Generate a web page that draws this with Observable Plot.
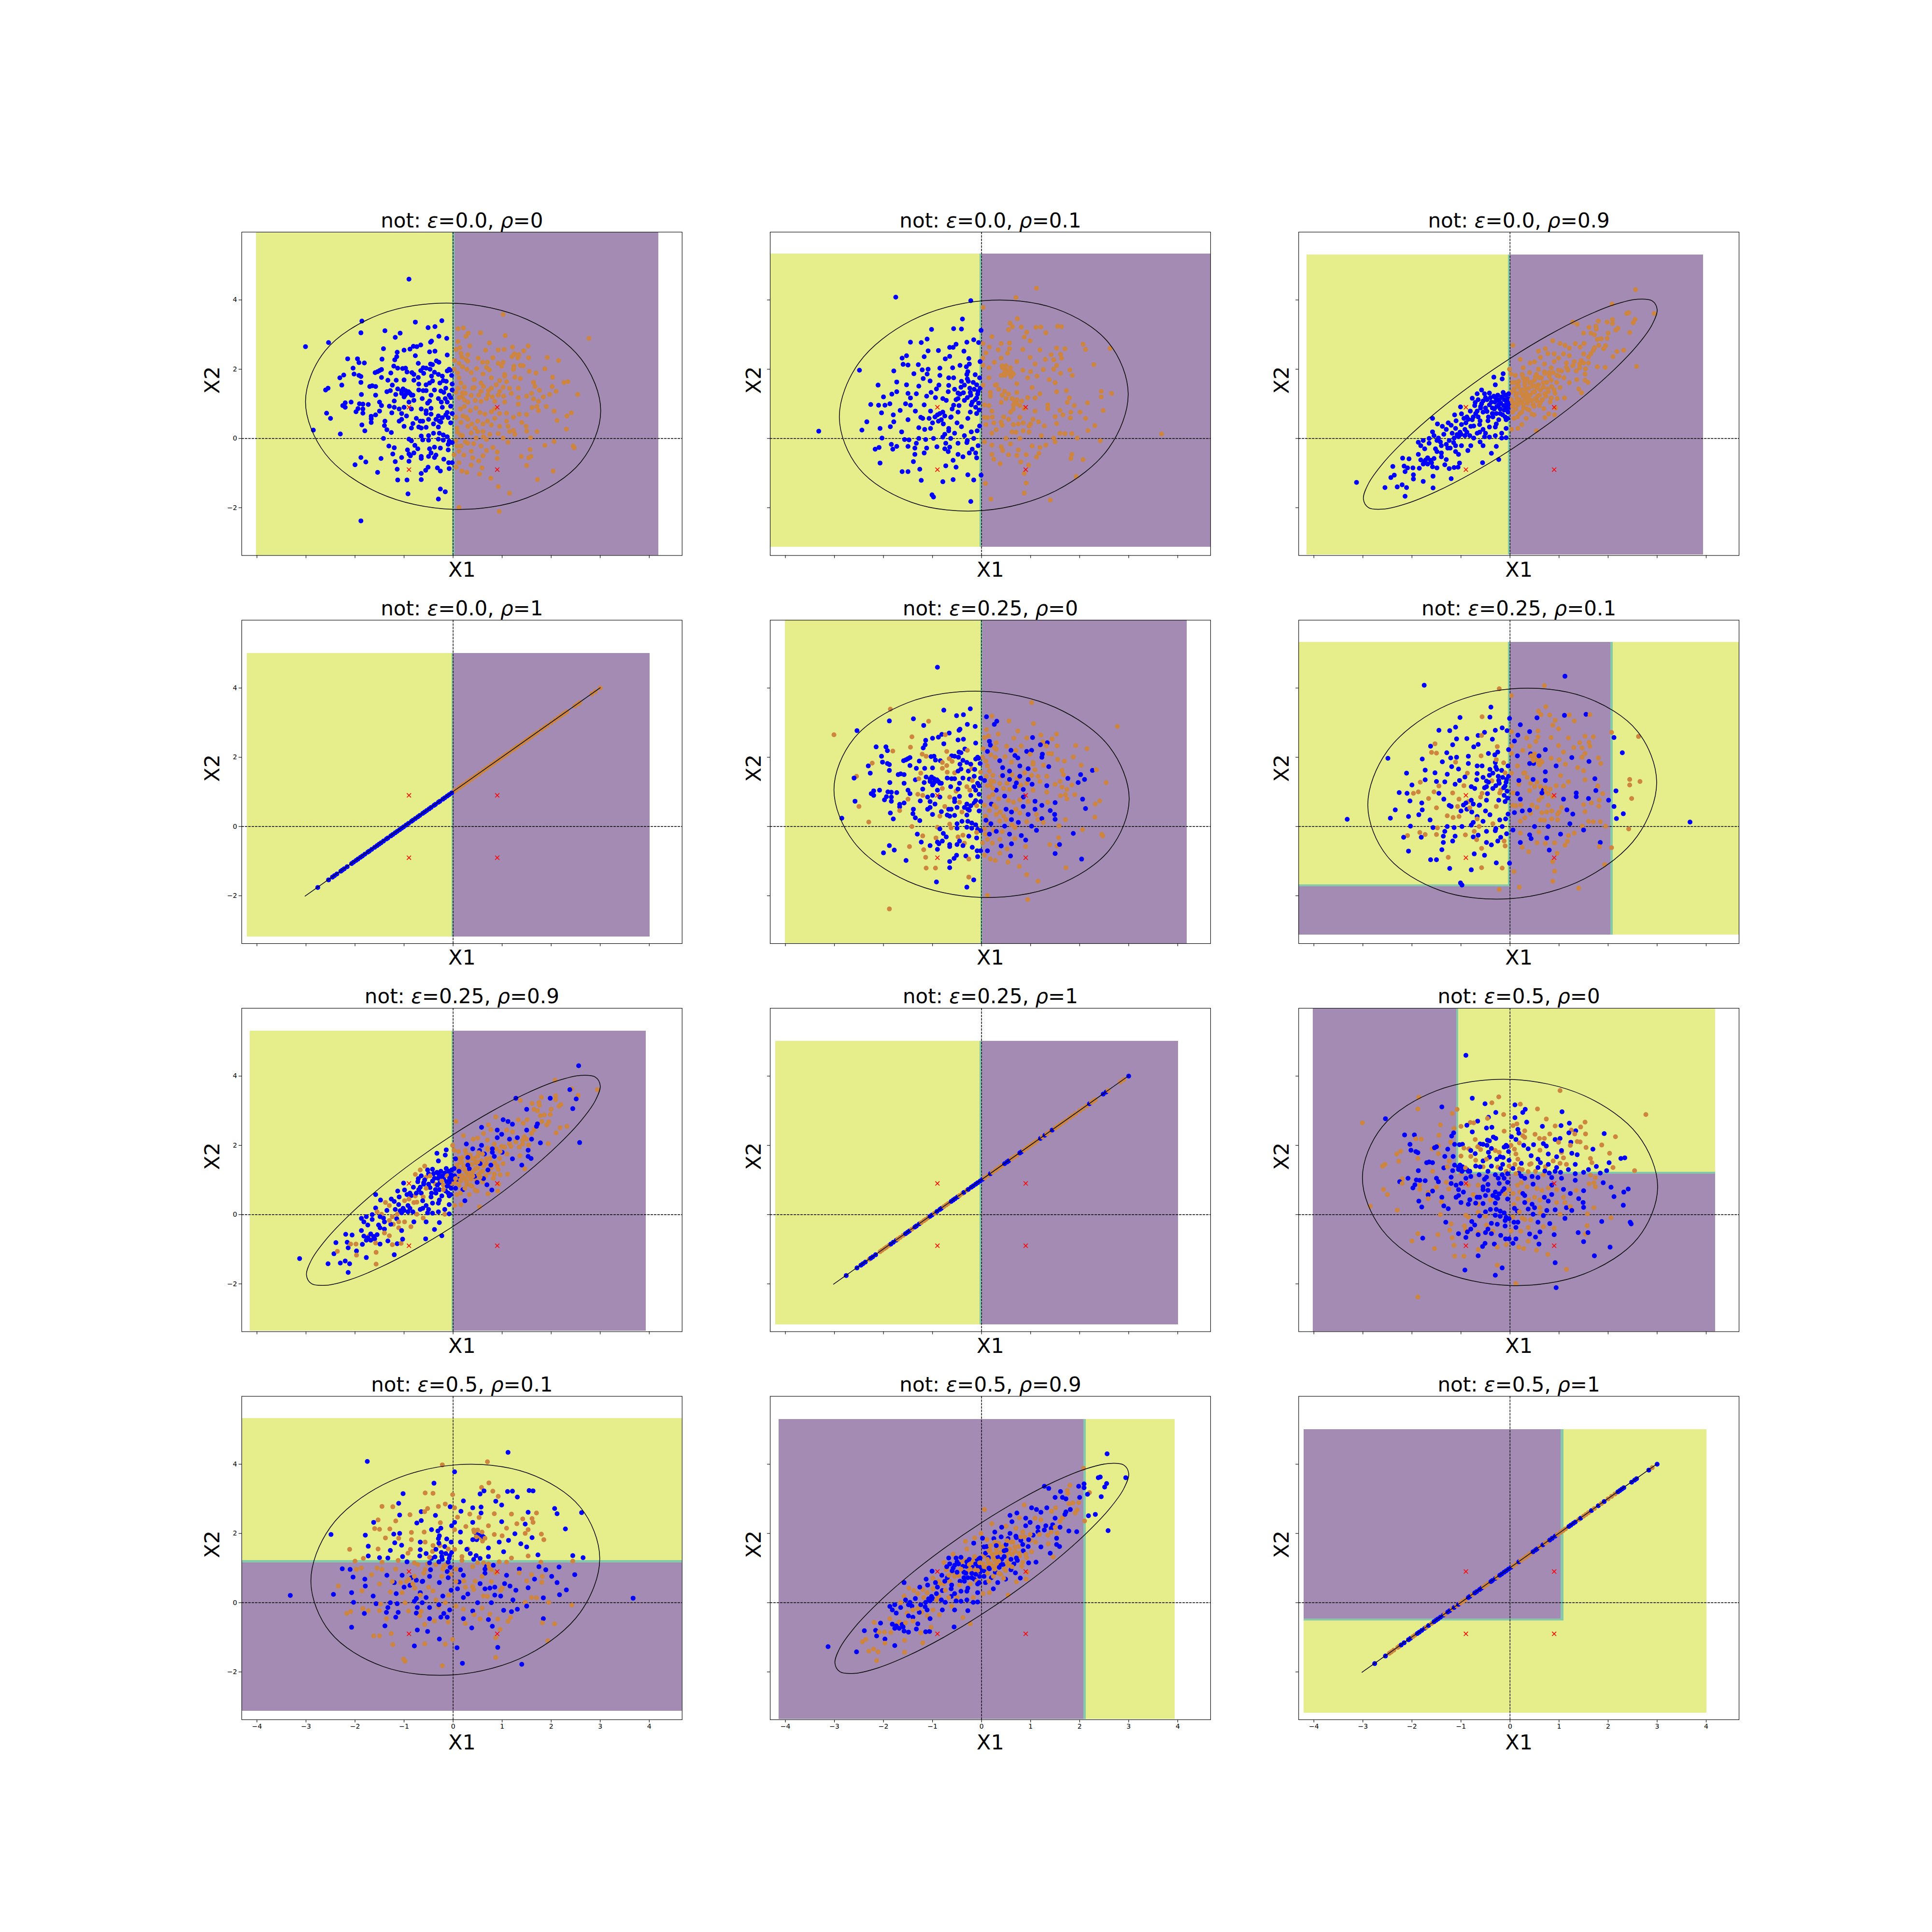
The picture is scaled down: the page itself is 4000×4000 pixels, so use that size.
<!DOCTYPE html>
<html><head><meta charset="utf-8">
<style>html,body{margin:0;padding:0;background:#fff}svg{display:block}</style>
<script src="https://cdn.jsdelivr.net/npm/d3@7"></script>
<script src="https://cdn.jsdelivr.net/npm/@observablehq/plot@0.6"></script>
</head><body><div id="chart"></div>
<script>
// panels, in reading order
const titles = ["not: ε=0.0, ρ=0","not: ε=0.0, ρ=0.1","not: ε=0.0, ρ=0.9","not: ε=0.0, ρ=1","not: ε=0.25, ρ=0","not: ε=0.25, ρ=0.1","not: ε=0.25, ρ=0.9","not: ε=0.25, ρ=1","not: ε=0.5, ρ=0","not: ε=0.5, ρ=0.1","not: ε=0.5, ρ=0.9","not: ε=0.5, ρ=1"];
const panelRho = ["0","1","9","x","0","1","9","x","0","1","9","x"];
const panelEps = [0,0,0,0,25,25,25,25,50,50,50,50];
const xTicks = [-4,-3,-2,-1,0,1,2,3,4];
const yTicks = [-2,0,2,4];
const corners = [[-0.9,0.9],[0.9,0.9],[-0.9,-0.9],[0.9,-0.9]];
const YEL="#e6ee8c", PUR="#a38bb3", EDGE="#86c9aa";
// decision regions: panel, colour, x1, x2, y1, y2
const regions = [
[0,YEL,-4.01,-.02,-3.38,5.96],[0,PUR,.03,4.19,-3.38,5.96],[0,EDGE,-.02,.03,-3.38,5.96],
[1,YEL,-4.31,-.04,-3.13,5.33],[1,PUR,0,4.67,-3.13,5.33],[1,EDGE,-.04,0,-3.13,5.33],
[2,YEL,-4.14,-.04,-3.36,5.3],[2,PUR,0,3.94,-3.36,5.3],[2,EDGE,-.04,0,-3.36,5.3],
[3,YEL,-4.2,-.03,-3.19,5.01],[3,PUR,0,4.01,-3.19,5.01],[3,EDGE,-.03,0,-3.19,5.01],
[4,YEL,-4.01,-.02,-3.38,5.96],[4,PUR,.02,4.19,-3.38,5.96],[4,EDGE,-.02,.02,-3.38,5.96],
[5,YEL,-4.31,-.04,-1.68,5.33],[5,PUR,-4.31,0,-3.13,-1.74],[5,EDGE,-4.31,-.04,-1.74,-1.68],[5,EDGE,-.04,0,-1.74,5.33],[5,PUR,0,2.05,-3.13,5.33],[5,EDGE,2.05,2.1,-3.13,5.33],[5,YEL,2.1,4.67,-3.13,5.33],
[6,YEL,-4.14,-.03,-3.36,5.3],[6,PUR,0,3.93,-3.36,5.3],[6,EDGE,-.03,0,-3.36,5.3],
[7,YEL,-4.2,-.04,-3.18,5.01],[7,PUR,0,4.01,-3.18,5.01],[7,EDGE,-.04,0,-3.18,5.01],
[8,PUR,-4.02,4.19,-3.38,1.17],[8,PUR,-4.02,-1.09,1.17,5.96],[8,EDGE,-1.09,-1.05,1.17,5.96],[8,YEL,-1.05,4.19,1.23,5.96],[8,EDGE,-1.09,4.19,1.17,1.23],
[9,YEL,-4.31,4.67,1.22,5.33],[9,EDGE,-4.31,4.67,1.15,1.22],[9,PUR,-4.31,4.67,-3.13,1.15],
[10,PUR,-4.13,2.08,-3.36,5.3],[10,EDGE,2.08,2.13,-3.36,5.3],[10,YEL,2.13,3.94,-3.36,5.3],
[11,YEL,-4.2,4.01,-3.19,5.0],[11,EDGE,1.04,1.09,-.52,5.0],[11,EDGE,-4.2,1.09,-.52,-.46],[11,PUR,-4.2,1.04,-.46,5.0]
];
// outlines (x,y pairs)
const outline0 = [3.01,.795,2.607,-.676,1.505,-1.716,0,-2.047,-1.505,-1.58,-2.607,-.441,-3.01,1.065,-2.607,2.536,-1.505,3.576,0,3.907,1.505,3.439,2.607,2.301];
const outline1 = [2.99,1.286,2.595,-.276,1.518,-1.508,.045,-2.08,-1.428,-1.844,-2.505,-.856,-2.9,.614,-2.505,2.176,-1.428,3.408,.045,3.98,1.518,3.744,2.595,2.756];
const outline9 = [3,3.726,2.898,3.288,2.599,2.695,2.123,1.987,1.503,1.21,.78,.418,.005,-.335,-.77,-.998,-1.493,-1.527,-2.113,-1.883,-2.589,-2.041,-2.888,-1.995,-2.99,-1.746,-2.888,-1.308,-2.589,-.715,-2.113,-.007,-1.493,.77,-.77,1.562,.005,2.315,.78,2.978,1.503,3.507,2.123,3.863,2.599,4.021,2.898,3.975];
const outlineX = [-3.02,-2.01,3,4.01];

// rho = 0 points (x,y pairs)
const rho0Blue = [-.9,4.6,-3.01,2.65,-2.54,2.77,-1.86,3.39,-1.88,3.05,-.77,3.36,-.23,3.4,-.51,3.2,-.37,3.23,-1.39,3.11,-1.08,3.04,-1.18,2.92,-.29,2.95,-.13,2.89,-.44,2.81,-.46,2.78,-.66,2.7,-.81,2.66,-.74,2.65,-1.42,2.59,-1,2.55,-.88,2.58,-1.14,2.49,-.48,2.5,-.37,2.52,-.77,2.39,-.12,2.41,-1.15,2.36,-1.45,2.29,-1.19,2.27,-2.15,2.3,-1.95,2.3,-1.92,2.19,-1.81,2.18,-.34,2.24,-.29,2.2,-.71,2.17,-.46,2.15,-.42,2.13,-1.21,2.09,-2.04,2.03,-1.46,1.99,-1.5,1.96,-1.13,2.03,-1.03,2.02,-.97,2.03,-.94,1.92,-.61,2.04,-.55,2.03,-.47,2,-.08,2,-.12,1.95,-.06,1.97,-.66,1.96,-1.59,1.9,-1.54,1.93,-1.27,1.89,-.84,1.9,-.8,1.85,-.6,1.88,-.38,1.91,-.44,1.8,-.22,1.8,-.03,1.82,-2.02,1.86,-1.92,1.82,-1.88,1.79,-2.31,1.75,-2.23,1.83,-1.46,1.76,-1.33,1.68,-1.16,1.68,-1,1.69,-.71,1.76,-.8,1.68,-.42,1.66,-.48,1.6,-.27,1.6,-.2,1.67,-.14,1.65,-.02,1.57,-.7,1.57,-1.88,1.62,-2.27,1.54,-1.7,1.5,-1.65,1.52,-1.58,1.5,-1.24,1.54,-1.13,1.43,-2.55,1.45,-2.6,1.4,-1.35,1.35,-1.28,1.38,-1.02,1.43,-.97,1.38,-.91,1.35,-1.05,1.3,-.98,1.25,-.85,1.25,-.55,1.38,-.61,1.38,-.38,1.4,-.25,1.37,-.19,1.33,-.02,1.4,-.45,1.25,-1.87,1.27,-1.58,1.25,-1.17,1.27,-.82,1.25,-.63,1.15,-.3,1.15,-.16,1.15,-.05,1.18,-1.5,1.05,-1.2,1.08,-.9,1.05,-.8,1.1,-.52,1.02,-.48,1.08,-.24,1.05,-.12,1.05,-2.2,1.03,-2.08,1.05,-1.91,1,-1.84,.99,-1.73,.98,-2.25,.95,-2.2,.9,-1.94,.86,-1.84,.85,-1.46,.95,-1.3,.93,-1.2,.9,-1.1,.85,-1,.9,-.85,.85,-.65,.85,-.55,.8,-.45,.87,-.22,.9,-.05,.93,-2.58,.73,-2.5,.58,-1.98,.77,-1.84,.73,-1.5,.79,-1.58,.68,-1.25,.74,-1.05,.72,-.95,.65,-.55,.72,-.45,.7,-.3,.65,-.15,.68,-.02,.72,-1.67,.64,-1.67,.57,-1.05,.55,-.75,.58,-.62,.5,-.5,.55,-.35,.55,-.22,.6,-.1,.6,-1.39,.5,-1.1,.5,-.82,.43,-.67,.5,-.4,.42,-.25,.47,-.05,.45,-1.67,.46,-1.86,.39,-1.4,.37,-1.35,.25,-1,.35,-.7,.33,-.55,.32,-.3,.33,-.85,.3,-2.85,.24,-1.8,.22,-1.26,.17,-2.3,.13,-.65,.07,-.5,.08,-.28,.15,-.2,.1,-.12,.05,-1.42,0,-.9,-.02,-.85,-.07,-.62,-.04,-.5,-.05,-.3,-.02,-.2,-.05,-.08,-.08,-.02,-.12,-.78,-.2,-.1,-.17,-1.31,-.22,-1.2,-.27,-.72,-.3,-.48,-.3,-.38,-.25,-.26,-.28,-.93,-.33,-.1,-.33,-.8,-.42,-.45,-.42,-.9,-.45,-.87,-.5,-1.23,-.45,-.5,-.52,-.35,-.48,-.65,-.52,-.65,-.58,-1.88,-.55,-1.47,-.58,-1.05,-.55,-.9,-.66,-1.18,-.67,-.38,-.55,-.19,-.6,-1.78,-.68,-.09,-.7,-.02,-.7,-2,-.76,-.51,-.83,-.32,-.85,-.08,-.87,-1.14,-.89,-.56,-.92,-.26,-.94,-1.54,-.98,-.65,-1.01,-1.13,-1.2,-.94,-1.2,-.65,-1.19,-.26,-1.46,-.16,-1.54,-.92,-1.6,-.3,-1.75,-1.88,-2.38];
const rho0Orange = [1.02,3.58,2.77,2.89,.1,3.17,.21,3.19,.56,3.05,1.06,2.97,.31,3.04,.26,2.95,.1,2.8,.74,2.76,.34,2.67,.14,2.62,.06,2.57,1.53,2.67,1.21,2.64,.92,2.56,1.04,2.57,.66,2.55,.16,2.46,.3,2.42,1.44,2.53,1.34,2.42,1.25,2.44,1.2,2.36,1.32,2.33,1.54,2.33,1.92,2.34,2.15,2.25,.51,2.32,.81,2.33,.03,2.25,.26,2.28,.3,2.23,.7,2.2,.92,2.17,1.02,2.2,.12,2.17,.19,2.07,.99,2.09,1.24,2.09,1.37,2.11,1.43,2.1,1.87,2.01,.02,2,.28,2,.48,2.02,.74,1.98,1.23,2,1.55,1.94,1.69,1.89,.09,1.89,.37,1.9,.61,1.86,1.05,1.85,2.03,1.77,.12,1.75,.43,1.7,.78,1.75,1.37,1.73,1.26,1.77,1.64,1.62,2.26,1.62,2.34,1.64,1.09,1.64,.95,1.67,.16,1.6,.57,1.6,1.67,1.5,2.02,1.5,2.54,1.27,.23,1.48,.43,1.47,.78,1.45,1.02,1.48,1.33,1.45,.06,1.33,.19,1.32,.57,1.36,.95,1.36,1.76,1.39,2.1,1.36,1.97,1.27,1.84,1.2,1.5,1.22,1.19,1.3,.71,1.26,.37,1.24,.12,1.18,1.03,1.22,1.33,1.18,1.64,1.14,.23,1.11,.57,1.07,.85,1.07,1.33,.99,1.74,1.07,1.9,.92,1.61,.89,1.71,.92,2.06,.79,2.41,.74,2.32,.65,2.12,.52,1.74,.8,1.5,.69,1.09,.73,.78,.77,.47,.88,.23,.92,.06,.61,.26,.61,.5,.5,.85,.58,1.23,.61,1.09,.5,1.4,.46,.16,.46,.3,.35,.61,.42,.78,.39,1.12,.35,1.49,.35,2.31,.27,1.71,.2,1.5,.21,1.23,.23,.95,.35,.09,.18,.37,.16,.61,.2,.92,.14,1.26,.12,1.58,.02,.19,.08,.47,.01,.68,-.03,1.02,.01,.06,-.07,.3,-.14,1.12,-.11,1.87,-.2,2.06,-.09,2.45,-.22,2.47,-.27,.16,-.22,.57,-.22,.81,-.26,1.57,-.32,.12,-.37,.37,-.37,.9,-.39,.02,-.47,.4,-.56,.61,-.5,1.39,-.52,1.54,-.56,1.59,-.52,.9,-.58,.52,-.65,.12,-.7,1.5,-.78,.37,-.77,.59,-.85,.06,-.83,.18,-.94,.28,-.98,.54,-1.03,2.04,-.94,.77,-1.15,1.72,-1.19,.92,-1.39,1.15,-1.58,.12,-1.99,.94,-2.11];
// denser centre of the cloud, with each point's colour at eps=0.25 and eps=0.5
const rho0Core = [.1,1.45,.18,1.2,.25,1.3,.3,1.05,.35,.8,.4,1.45,.45,1.1,.52,1.25,.62,1.5,.68,1.15,.72,1.38,.8,1.2,.88,1.55,.92,1.25,.15,.85,.2,.65,.3,.55,.38,.42,.45,.3,.55,.75,.65,.7,.7,.5,.85,.85,.95,.72,1.05,1.05,1.15,1.45,.08,.3,.15,.1,.25,-.1,.5,.2,.62,.05,.75,.12,.42,-.15,.68,-.35,.08,-.22,.22,-.48,1.15,.2,1.35,.7,1.6,1.3,1.05,1.8,.68,2.05,.18,2.35,.6,2.2,-.7,1.4,-.55,1.55,-.3,1.85,-.15,1.45,-.08,1.25,-.12,.75,-.28,.5,-.65,.3,-.4,.15,-1,1.2,-.95,1.3,-1.05,1.37,-.88,1.3];
const rho0Core25 = "oooboooooboooooboooooobooooooooboooooooobbbbobbbbbbb";
const rho0Core50 = "obobooboboobobooboboobbobooboboboobobobobbobbobobbobo";

// rho = 0.1 points
const rho1Blue = [-1.75,4.08,-.22,3.98,-.39,3.45,-1.02,3.15,-.57,3.17,-.41,3.16,-.01,3.12,-1.11,2.87,-1.45,2.78,-1.23,2.77,-.3,2.78,-.16,2.85,-.06,2.77,-.52,2.72,-.65,2.63,-.58,2.63,-1.09,2.53,-.88,2.54,-.36,2.52,-1.53,2.39,-1.62,2.32,-1.17,2.36,-.74,2.3,-.65,2.37,-.26,2.31,-1.6,2.14,-1.5,2.12,-1.29,2.13,-2.49,1.97,-1.79,1.95,-1.21,1.98,-1.09,2,-.85,2.03,-.59,2.04,-.44,2.11,-.31,2.07,-.25,2.15,-.03,2.22,-1.38,1.87,-1.11,1.86,-.85,1.82,-.28,1.93,-.13,1.84,-.04,1.75,-1.19,1.73,-1.05,1.66,-.67,1.75,-.57,1.75,-.41,1.65,-.29,1.72,-1.73,1.63,-1.53,1.55,-2.11,1.54,-1.28,1.51,-.87,1.54,-.67,1.53,-.35,1.54,-.92,1.43,-1.73,1.35,-1.83,1.28,-1.5,1.3,-1.33,1.29,-1.03,1.33,-.68,1.35,-.48,1.31,-.23,1.33,-.07,1.36,-2,1.2,-1.12,1.22,-.94,1.18,-.79,1.15,-.48,1.15,-.29,1.18,-.1,1.17,-1.45,1.17,-2.26,.98,-2.1,.96,-1.97,.96,-1.87,1,-1.55,1,-1.45,.96,-1.17,.97,-.57,.96,-.21,.97,-2.04,.74,-1.8,.68,-1.66,.81,-1.35,.79,-1.04,.79,-.79,.76,-.48,.76,-.23,.76,-.1,.72,-2.34,.48,-1.79,.48,-1.5,.54,-1.24,.61,-1.07,.58,-.82,.54,-.63,.61,-.28,.58,-2.44,.24,-2.07,.29,-1.86,.34,-1.28,.31,-1.04,.29,-.67,.29,-.41,.34,-.04,.36,-3.32,.21,-1.63,.19,-1.16,.26,-.67,.22,-.21,.19,-.09,.22,-2.03,.01,-1.57,-.03,-1.48,-.04,-1.28,0,-1.14,-.03,-.98,0,-.79,.04,-.63,0,-.35,.08,-.16,0,-1.33,-.14,-1.84,-.17,-1.73,-.23,-1.5,-.23,-2.09,-.26,-2.17,-.31,-1.81,-.31,-1.36,-.28,-1.12,-.28,-.91,-.24,-.73,-.14,-.48,-.14,-.29,-.06,-.07,-.21,-.19,-.31,-1.36,-.46,-1.17,-.42,-.68,-.38,-.48,-.46,-.38,-.53,-.1,-.56,-1.39,-.67,-2.07,-.71,-.58,-.63,-.73,-.79,-.52,-.83,-1.26,-.89,-1.62,-.96,-1.5,-.96,-.28,-1.05,-.01,-1.06,-1.23,-1.21,-.79,-1.25,-.58,-1.19,-.16,-1.2,-1.01,-1.63,-.98,-1.69,-.22,-1.82];
const rho1Orange = [1.12,4.34,.7,4.07,.03,3.78,.73,3.46,.58,3.33,.55,3.14,.63,3.23,.81,3.22,1.11,3.21,1.21,3.22,1.55,3.24,1.63,3.23,1.31,3.05,.92,3.07,.87,2.93,.21,2.94,.99,2.82,2.07,2.72,.4,2.74,.57,2.76,.03,2.74,.16,2.64,.57,2.59,.34,2.56,.84,2.57,1.19,2.56,1.53,2.61,1.7,2.59,2.12,2.57,2.62,2.6,.53,2.46,.09,2.47,1.42,2.42,1.61,2.43,.03,2.32,.4,2.32,.99,2.34,1.3,2.28,1.47,2.27,1.63,2.32,.26,2.2,.72,2.22,1.53,2.11,2.29,2.13,1.09,2.15,.03,2.11,.43,2.04,.59,2.04,.15,2.04,.84,1.97,1,1.93,1.26,1.99,1.47,2,1.8,1.98,1.61,1.88,1.85,1.82,.47,1.9,.65,1.86,1.13,1.8,.15,1.75,.4,1.82,.94,1.75,1.38,1.7,1.5,1.61,.28,1.54,.72,1.58,.03,1.54,1.03,1.47,1.73,1.38,1.53,1.35,2.44,1.36,2.65,1.3,2.44,1.2,.18,1.33,.47,1.36,.72,1.33,1.19,1.29,.94,1.18,1.09,1.17,1.79,1.17,1.75,1.04,1.89,.95,2.16,1.03,1.35,.97,.06,.97,.4,1.04,.65,.97,2.48,.81,2.01,.76,1.82,.76,1.6,.81,1.35,.86,1.09,.79,.21,.79,.59,.76,.87,.86,1.66,.68,1.81,.59,2.12,.58,1.5,.63,1.16,.48,.06,.61,.78,.61,.4,.47,1.53,.43,2.31,.37,2.17,.23,.09,.4,.65,.4,.97,.36,1.28,.36,3.67,.13,1.6,.15,1.7,.14,1.84,.14,.21,.15,.62,.19,.97,.19,1.22,.08,1.95,.01,1.47,.01,2.42,-.07,.06,-.1,.5,0,.78,0,1.5,-.1,.21,-.19,.59,-.16,1.03,-.22,1.31,-.19,1.19,-.26,.4,-.24,.75,-.33,.43,-.35,.21,-.46,.55,-.47,.72,-.49,.91,-.47,1.17,-.43,1.84,-.46,.25,-.6,1.12,-.54,1.82,-.58,2.07,-.61,.8,-.68,.38,-.73,.96,-.77,.87,-1.01,1.93,-1.1,.08,-1.3,.91,-1.29,.87,-1.58,.19,-1.75,1.4,-1.78];
const rho1Core = [-.3,1.85,-.27,1.65,-.24,1.45,-.22,1.25,-.19,1.05,-.17,1.62,-.15,1.42,-.13,1.12,-.12,.9,-.1,1.55,-.08,1.28,-.06,1.02,-.05,.82,-.03,1.45,-.35,1.1,-.37,1.32,-.42,1.48,-.44,1.28,-.46,.95,-.52,1.12,-.55,1.42,-.6,.85,-.62,.62,-.72,1.1,-.75,.65,-.78,.42,-.85,.72,-.88,.5,-.95,.62,-1,.45,-.9,.68,-1.2,.58,-.5,.45,-.55,.15,-.75,.12,-.3,-.12,-.25,-.42,-.12,-.42,-.65,-.25,-.75,-.3,.42,2.1,.47,2,.5,2.1,.52,1.95,.55,1.88,.48,1.82,.58,1.95,.6,1.78,.62,1.9,.3,1.55,.35,1.42,.42,1.25,.5,1.15,.55,1.28,.62,1.15,.68,1.05,.72,1.12,.65,.85,.78,.95,.82,1.08,.72,1,.45,.62,.55,.55,.25,.45,.3,.25,.42,.38,.75,.42,.85,.45,1,.42,1.05,.55,.18,1.22,.15,.95,.12,.6,.22,.62,.7,.18,.85,.22];
const rho1Core25 = "bbbbobbbbobbbbbobbbbbobbbbobbbbbbbbbbobbboooobooooooooobooooooobooooooobooooooo";
const rho1Core50 = "bobbobbobobbobobobbobobobobbobobobbobbobobobobbobobboboboboboobobobbobobboobobobo";

// rho = 0.9 points
const rho9Blue = [-3.13,-1.27,-2.55,-1.42,-2.3,-1.4,-2.2,-1.34,-2.11,-1.42,-2.14,-1.67,-2.43,-1.13,-2.36,-1.06,-2.39,-.81,-2.16,-.8,-2.14,-.96,-1.97,-1.05,-1.97,-1.17,-1.77,-1.24,-1.57,-1.43,-1.57,-1.09,-1.2,-1.16,-2.19,-.57,-2.06,-.59,-2.09,-.85,-1.98,-.85,-1.85,-.86,-1.87,-.46,-1.82,-.62,-1.74,-.3,-1.82,-.21,-1.87,-.11,-1.77,-.06,-1.65,0,-1.65,-.14,-1.74,-.67,-1.68,-.56,-1.62,-.63,-1.68,-.74,-1.77,-.74,-1.55,-.58,-1.49,-.38,-1.4,-.42,-1.49,-.85,-1.33,-.76,-1.24,-.87,-1.14,-.84,-1.06,-.83,-1.03,-.71,-1.3,-.61,-1.4,-.53,-.56,-.7,-.23,-.61,-.38,-.43,-.28,-.23,-.55,-.21,-.86,-.35,-.99,-.21,-1.11,-.38,-1.05,-.46,-1.27,-.28,-1.4,-.21,-1.58,.19,-1.55,.08,-1.46,.01,-1.49,-.06,-1.3,-.17,-1.11,-.21,-1.24,-.06,-1.08,.11,-1.14,.01,-.92,.08,-.74,.01,-.8,-.21,-.61,-.1,-.42,.04,-.17,.01,-.08,.02,-1.58,.58,-1.48,.42,-1.38,.35,-1.26,.45,-1.3,.26,-1.11,.29,-1.18,.15,-.99,.4,-.92,.26,-.74,.36,-.67,.15,-.55,.26,-.42,.33,-.3,.33,-.17,.15,-.08,.29,-1.13,.68,-1.1,.51,-.94,.58,-.99,.71,-.77,.54,-.61,.51,-.45,.51,-.23,.54,-.08,.54,-1.01,.91,-.81,.79,-.67,.79,-.55,.76,-.36,.72,-.2,.72,-.04,.76,-.71,1.04,-.58,1,-.42,.97,-.23,.97,-.08,.93,-.77,1.16,-.67,1.29,-.52,1.29,-.58,1.4,-.42,1.31,-.3,1.18,-.14,1.33,-.03,1.29,-.3,1.55,-.33,1.77,-.16,1.72,-.14,1.87,-.5,.88,-.6,.92,-.32,.85,-.12,.82,-.47,1.12,-.25,1.1,-.9,.45,-.75,.62,-.35,.62,-.62,.4,-.28,.42,-1.02,.18,-.82,.08,-.52,.05,-.3,.08];
const rho9Orange = [2.56,4.3,2.08,3.88,2.94,3.61,2.42,3.63,2.38,3.61,1.28,3.36,1.37,3.3,1.8,3.39,1.98,3.36,2.09,3.43,2.09,3.32,2.55,3.44,2.51,3.34,2.2,3.18,2.16,3.13,2.44,3.06,1.61,3.21,1.75,3.24,1.76,3.16,1.5,3.04,1.65,3.04,2,3.04,1.72,3,1.86,2.88,1.98,2.89,1.78,2.86,.87,2.82,.06,2.69,1.02,2.74,1.12,2.69,1.33,2.74,1.51,2.74,1.81,2.69,1.95,2.68,1.43,2.64,1.91,2.59,.58,2.52,.72,2.59,1.21,2.61,1.7,2.55,2.18,2.51,2.32,2.55,.77,2.45,.9,2.44,1.09,2.44,1.5,2.44,2.1,2.36,.62,2.34,.21,2.28,.99,2.32,1.21,2.39,1.31,2.22,1.45,2.25,2.58,2.08,.5,2.21,.7,2.15,.9,2.22,1.15,2.18,1.6,2.18,1.5,2.18,.41,2.18,1.78,2.07,1.94,2.05,1.42,2.04,1.54,2.01,.27,2.04,.58,2,.84,2.04,1.18,1.97,.99,1.97,-.01,2,1.53,1.86,.4,1.9,.71,1.88,.96,1.82,.02,1.86,.11,1.82,.27,1.75,.52,1.79,1.36,1.7,1.53,1.68,1.59,1.62,.84,1.68,1.21,1.61,.05,1.61,.18,1.65,.4,1.61,.68,1.61,1.02,1.47,1.4,1.43,1.46,1.32,.55,1.47,.77,1.43,.08,1.43,.3,1.43,.02,1.33,.24,1.29,.46,1.33,.71,1.29,.96,1.15,1.11,1.17,.84,1.17,.14,1.15,.4,1.11,.62,1.04,.05,1.04,.27,.97,.49,.93,.69,.86,.93,.88,.05,.76,.24,.76,.49,.68,.79,.71,.91,.68,.71,.6,.08,.58,.33,.58,.24,.4,.03,.26,.16,.29,.54,.22,.35,1.2,.6,1.25,.15,1,.35,.85,.55,1.08,.15,.62,.45,.7,.9,1.4,.6,1.75,.8,1.9,.15,1.5,.3,1.65,.5,1.52,.12,1.25];
const rho9Core = [-.72,.95,-.65,1.12,-.6,.88,-.55,1.08,-.5,1.18,-.47,.78,-.44,.62,-.4,1.18,-.38,1.05,-.36,.88,-.33,1.22,-.31,1.05,-.28,.72,-.27,.92,-.25,1.25,-.22,1.12,-.2,.85,-.19,1.02,-.17,1.2,-.15,.68,-.13,.95,-.12,1.12,-.1,.62,-.09,1.25,-.07,1.05,-.06,.82,-.05,.58,-.04,1.15,-.03,.9,-.02,1.02,-.65,.62,-.7,.72,-.85,.55,-.8,.35,-.88,.18,-1,.12,-1.15,-.12,-1.2,.38,-1.05,.05,-1.22,-.28,-1.35,.12,-1.42,-.1,-1.52,-.3,-1.6,-.7,-1.72,-.62,-1.58,-.82,-.88,.62,-.62,.18,-.5,.15,.03,1.12,.05,.92,.07,1.38,.1,1.02,.1,1.62,.12,.85,.14,1.3,.16,.98,.17,1.52,.19,1.12,.2,.72,.22,1.4,.24,1.05,.25,1.85,.27,1.22,.28,.88,.3,1.55,.31,1.12,.33,1.32,.35,1.72,.36,1.02,.38,1.45,.39,.82,.41,1.25,.43,1.62,.44,1.1,.46,1.5,.47,.98,.5,1.35,.5,1.68,.52,1.15,.54,1.85,.56,1.22,.58,1.55,.6,.95,.62,1.4,.64,1.75,.66,1.12,.68,1.48,.7,1.92,.73,1.22,.75,1.62,.78,1.35,.8,1.8,.82,1.05,.85,1.5,.88,1.9,.92,1.3,.95,1.62,1,1.8,1.05,1.95,1.1,1.75,1.15,2.05,1.28,2.1,1.35,1.95,1.42,2.15,1.6,2.35,1.65,2.45,1.72,2.62];
const rho9Core25 = "bbbobbbbbobbbbbbobbbbobbbbbbobbbbobbbbbobbbboobbbbooboooooobooooooobooooooboooooboooobooooooboooooboooooooobooooboo";
const rho9Core50 = "obobbobobbobbobobbobobobbobobbobobobbobobbobobobooboobobbooboobobooboboobobboobobooboobobbooboboobobobboboobooboobo";

// rho = 1 points (all on one straight line)
const rhoXBlue = [-2.76,-1.76,-2.54,-1.54,-2.46,-1.46,-2.42,-1.42,-2.37,-1.37,-2.29,-1.29,-2.26,-1.26,-2.22,-1.22,-2.16,-1.16,-2.07,-1.07,-2.03,-1.03,-1.98,-.98,-1.94,-.94,-1.89,-.89,-1.85,-.85,-1.8,-.8,-1.74,-.74,-1.71,-.71,-1.66,-.66,-1.6,-.6,-1.55,-.55,-1.51,-.51,-1.47,-.47,-1.42,-.42,-1.36,-.36,-1.33,-.33,-1.27,-.27,-1.23,-.23,-1.18,-.18,-1.14,-.14,-1.09,-.09,-1.05,-.05,-1.01,-.01,-.96,.04,-.91,.09,-.85,.15,-.82,.18,-.77,.23,-.72,.28,-.68,.32,-.62,.38,-.58,.42,-.54,.46,-.49,.51,-.45,.55,-.39,.61,-.36,.64,-.3,.7,-.27,.73,-.21,.79,-.17,.83,-.12,.88,-.08,.92,-.03,.97];
const rhoXOrange = [.02,1.02,.06,1.06,.13,1.13,.18,1.18,.22,1.22,.28,1.28,.33,1.33,.38,1.38,.43,1.43,.47,1.47,.52,1.52,.55,1.55,.61,1.61,.67,1.67,.72,1.72,.78,1.78,.81,1.81,.86,1.86,.92,1.92,.97,1.97,1.03,2.03,1.08,2.08,1.13,2.13,1.2,2.2,1.24,2.24,1.29,2.29,1.33,2.33,1.4,2.4,1.44,2.44,1.5,2.5,1.55,2.55,1.6,2.6,1.66,2.66,1.72,2.72,1.8,2.8,1.86,2.86,1.92,2.92,2,3,2.07,3.07,2.14,3.14,2.2,3.2,2.24,3.24,2.28,3.28,2.32,3.32,2.48,3.48,2.54,3.54,2.58,3.58,2.83,3.83,2.9,3.9,3,4];

// points whose colour differs from the eps=0 panel
const rho0Flip25 = [-3.01,2.64,-1.87,3.39,-1.09,3.04,-.69,2.64,-1.43,2.59,-1.45,2.29,-1.82,2.18,-.7,2.17,-.29,2.21,-1.09,2.04,-1.21,2.08,-.65,1.99,-.58,1.87,-.82,1.87,-2.23,1.82,-.72,1.74,-.8,1.68,-.7,1.57,-.21,1.63,-2.56,1.5,-1.24,1.53,-1.28,1.35,-.23,1.33,-.31,1.19,-.82,1.13,-.35,1.01,-.52,.98,-1.33,.93,-1.2,.87,-.65,.83,-1.51,.79,-.73,.71,-.48,.69,-.13,.61,-2.5,.58,-1.67,.46,-.82,.33,-.48,.43,-2.31,.13,-1.43,-.01,-.91,-.02,-.67,.07,-.57,-.02,-.13,-.2,-.44,-.24,-1.21,-.28,-.94,-.33,-.49,-.31,-.27,-.43,-1.47,-.59,-1.19,-.68,-1.14,-.89,-.26,-.96,-1.14,-1.2,-.94,-1.2,-.26,-1.46,-1.89,-2.39,
.09,3.17,.31,3.04,.26,2.96,1.04,2.57,.16,2.45,1.36,2.42,1.19,2.35,.13,2.17,.86,2.2,1.05,2.21,1.24,2.1,.78,2,1.27,1.95,.47,1.88,.83,1.82,.31,1.79,1.37,1.72,2.27,1.6,.61,1.63,.79,1.64,2.03,1.5,.08,1.49,.4,1.38,.11,1.35,.57,1.35,.81,1.35,1.05,1.38,2,1.37,1.7,1.31,.72,1.23,1.11,1.2,1.28,1.13,1.96,1.26,.94,.96,1.04,.93,.5,.83,2.06,.8,1.11,.71,1.46,.73,1.51,.67,1.27,.69,.88,.57,2.12,.51,1.31,.48,.45,.46,.55,.41,.91,.36,.6,.24,1.19,.24,1.5,.21,.1,.16,.25,.09,.34,0,.94,.03,1.05,.03,1.11,-.16,.04,-.24,.25,-.21,.45,-.21,.63,-.33,.84,-.28,1.87,-.21,.4,-.54,1.6,-.52,.13,-.71,.59,-.85,1.5,-.78,2.05,-.94];
const rho0Flip50 = [-3.02,2.65,-1.87,3.38,-1.89,3.05,-1.19,2.91,-1.08,3.04,-1.01,2.54,-.81,2.66,-.7,2.64,-.45,2.78,-.37,3.23,-.23,3.4,-.13,2.88,-.13,2.41,-1.14,2.51,-1.43,2.59,-1.45,2.29,-1.92,2.18,-1.82,2.18,-.72,2.17,-1.22,2.09,-1.47,1.99,-1.57,1.9,-2.32,1.75,-2.24,1.83,-1.46,1.75,-1.9,1.62,-2.27,1.55,-2.57,1.52,-2.6,1.45,-1.24,1.55,-1.56,1.26,-.99,1.7,-.8,1.68,-.72,1.57,-.63,1.89,-.55,1.7,-.82,1.89,-.92,1.92,-.64,1.99,-1.27,1.35,-.92,1.35,-.58,1.44,-.15,1.76,-.31,1.35,-.03,1.39,-2.16,1.03,-2.23,.9,-1.84,.82,-1.3,.95,-1.8,.67,-1.68,.68,-2.56,.73,-2.5,.58,-1.51,.8,-1.29,.75,-1.68,.46,-1.43,.36,-2.85,.24,-2.31,.14,-1.42,0,-.9,-.04,-.85,-.09,-.67,.09,-.55,-.04,-.92,.78,-.67,.93,-.73,.75,-.42,.43,-.14,.6,-1.21,-.26,-.94,-.31,-1.23,-.44,-.92,-.47,-.5,-.28,-.64,-.53,-.36,-.5,-1.89,-.54,-1.47,-.58,-1.19,-.67,-1.99,-.75,-1.15,-.89,-1.55,-.98,-.65,-1,-.26,-.94,-1.14,-1.19,-.94,-1.19,-.26,-1.46,-1.89,-2.37,-.08,-.87,
.09,3.18,.26,2.95,.31,3.03,1.06,2.97,.1,2.8,.34,2.66,.65,2.54,1.04,2.56,1.21,2.63,1.36,2.42,1.93,2.34,1.2,2.36,.16,2.46,.13,2.17,.02,2.25,.86,2.19,1.02,2.21,1.24,2.1,.79,2,.47,1.99,.27,1.96,1.7,1.87,1.28,1.75,1.37,1.72,.84,1.82,.3,1.78,2.27,1.61,2.34,1.63,1.06,1.84,.49,1.62,.63,1.64,.95,1.67,.08,1.46,2.02,1.5,1.99,1.37,1.33,1.44,.58,1.37,.8,1.5,.87,1.39,.27,1.5,1.7,1.32,1.18,1.28,1.95,1.27,.68,1.28,1.53,1.21,.77,1.14,.58,1.1,.99,1.14,1.29,1.14,.27,1.03,1.34,.96,1.9,.93,1.06,.96,2.07,.78,2.41,.74,2.33,.65,2.12,.52,1.5,.69,1.09,.73,.46,.78,0,.71,.88,.57,1.31,.48,.27,.53,1.4,.48,.77,.37,.46,.32,2.32,.26,1.5,.22,.87,.16,1.28,.13,.08,.17,.3,.16,.46,0,1.11,-.16,1.87,-.2,2.46,-.21,2.48,-.27,.65,-.11,.24,-.21,.45,-.2,.63,-.32,.84,-.27,.16,-.39,.91,-.58,1.4,-.53,1.6,-.51,.4,-.57,.53,-.65,1.5,-.78,.13,-.7,.05,-.82,.59,-.84,2.05,-.93,1.72,-1.19,.93,-1.39,.94,-2.11];
const rho1Flip25 = [-.22,3.98,-.57,3.16,-.6,2.62,-1.53,2.38,-1.6,2.13,-1.51,2.11,-.26,2.3,-.6,2.02,-1.11,1.85,-.88,1.68,-.26,1.92,-.17,1.85,-1.83,1.28,-1.45,1.18,-1.29,1.08,-.94,1.19,-1.97,.94,-1.8,1.01,-1.6,1.03,-.57,.95,-.21,.98,-1.67,.81,-1.6,.69,-1.02,.86,-1.13,.6,-.79,.62,-.26,.51,-1.5,.46,-1.05,.48,-.96,.32,-.74,.19,-1.48,-.05,-.63,0,-.37,.07,-1.84,-.16,-1.74,-.22,-1.63,-.28,-2.09,-.29,-.91,-.33,-.61,-.18,-.62,-.32,-.58,-.64,-1.25,-.9,-.58,-1.2,-.17,-1.2,-.22,-1.82,-.06,-.61,
1.13,4.33,1.56,3.24,1.1,3.21,.55,3.13,.21,2.93,.41,2.74,.14,2.63,2.12,2.57,2.29,2.12,.11,2.49,.7,2.17,1.26,1.97,1.6,1.87,.99,1.81,.58,1.97,.14,1.92,.51,1.69,.72,1.62,1.73,1.38,.07,1.2,.71,1.35,.4,1.37,1.75,1.03,2.16,1.02,1.35,.98,.65,1.12,.36,.83,1.59,.81,2,.75,1.04,.67,1.12,.87,2.12,.58,.11,.46,.49,.36,1.16,.49,2.32,.36,2.17,.22,1.26,.24,1.16,.24,3.66,.12,.06,.06,.41,.07,.63,0,1.5,-.12,1.04,-.24,.47,-.16,.43,-.38,.74,-.34,.22,-.48,1.84,-.47,.8,-.68];
const rho1Flip50 = [-.22,3.98,-.41,3.16,-.57,3.16,-.01,3.11,-1.44,2.77,-1.22,2.77,-.3,2.78,-.16,2.84,-.53,2.71,-.6,2.62,-.86,2.52,-1.52,2.38,-1.6,2.13,-1.5,2.11,-1.29,2.12,-1.17,2.35,-.26,2.31,-.86,2.02,-.59,2.02,-1.37,1.85,-1.1,1.85,-.86,1.81,-.58,1.74,-1.52,1.54,-2.11,1.53,-.88,1.68,-.4,1.61,-1.82,1.27,-1.99,1.2,-.84,1.43,-1.43,1.05,-1.76,1.03,-1.96,.93,-1.82,1.03,-1.57,1,-1.25,1.08,-1.08,1.08,-.81,1.11,-.6,1.04,-.39,1.29,-.91,.79,-.77,.68,-.32,.79,-.19,.9,-1.59,.83,-1.5,.54,-1.24,.61,-1.05,.68,-1.29,.31,-1.01,.33,-.53,.33,-2.33,.46,-1.84,.33,-.96,.01,-.72,.19,-.36,.08,-.13,-.01,-1.48,-.06,-1.83,-.17,-2.1,-.28,-2.17,-.31,-1.72,-.24,-1.63,-.28,-.9,-.33,-.69,-.38,-1.36,-.47,-.37,-.55,-.59,-.64,-.05,-.6,-1.61,-.97,-1.49,-.97,-1.25,-.91,-1.22,-1.21,-.59,-1.2,-.17,-1.2,-.01,-1.06,-1.01,-1.64,-.98,-1.69,-.22,-1.82,
1.12,4.33,.02,3.76,.63,3.21,.55,3.13,1.1,3.2,1.21,3.21,1.55,3.23,1.63,3.22,1.32,3.04,.88,2.98,.21,2.93,.99,2.82,2.08,2.72,.41,2.74,.56,2.74,2.12,2.56,.17,2.62,2.61,2.59,1.57,2.61,.58,2.58,.07,2.32,.42,2.3,.99,2.32,1.5,2.25,2.29,2.12,1.26,1.97,1.6,1.87,.95,1.82,1.12,1.77,.23,1.7,.14,1.9,.51,1.68,.74,1.59,2.43,1.35,2.65,1.28,1.72,1.38,1.37,1.68,1.48,1.6,.27,1.52,1.14,1.46,.43,1.38,.63,1.43,1.88,.93,2.15,1.02,2.47,.81,1.74,1.04,1.34,.96,.74,1,2,.75,.35,.83,1.1,.72,1.65,.7,2.11,.57,1.51,.43,1.16,.48,1.23,.48,.61,.4,.1,.33,2.31,.36,2.17,.22,1.83,.13,3.66,.12,1.26,.26,1.12,.24,.28,.11,.02,.22,.41,.07,.63,.01,1.5,-.12,1.31,-.2,1.04,-.24,1.18,-.28,.47,-.16,.23,-.49,.71,-.51,1.83,-.47,.79,-.68,.38,-.73,.91,-1.3,.09,-1.31,.19,-1.75,1.39,-1.79];
const rho9Flip25 = [-2.36,-1.07,-1.97,-1.18,-2.09,-.85,-1.99,-.85,-1.57,-1.09,-1.58,-1.43,-1.23,-.89,-1.07,-.85,-1.31,-.64,-1.4,-.52,-1.29,-.21,-1.18,-.39,-1.07,-.25,-.84,-.33,-.55,-.11,-1.5,.11,-1.45,.04,-1.38,.34,-1.31,.24,-1.23,-.07,-1.13,.07,-1.01,-.07,-.76,0,-.18,.01,-.98,.43,-.92,.36,-.74,.37,-.77,.52,-.67,.53,-.51,.69,-.18,.63,-.78,1.16,-.7,1.18,-.59,1.4,-.19,1,-.4,1.14,
2.55,4.3,2.37,3.61,2.51,3.34,1.27,3.36,1.98,3.36,2.43,3.06,1.49,3.04,1.02,2.74,1.11,2.71,1.19,2.65,.58,2.52,1.74,2.52,1.51,2.44,.92,2.43,1.07,2.33,.82,2.3,1.29,2.28,1.6,2.17,1.19,2.15,1.77,2.08,2.58,2.08,.29,2.05,.59,2,1.45,1.89,1.53,1.7,1.58,1.62,1.21,1.64,.93,1.65,.4,1.82,.78,1.85,0,1.55,1.4,1.43,.53,1.5,.8,1.46,.15,1.21,.72,1.28,.06,1.35,.34,1.64,.21,1.39,.67,.82,.79,.71,.24,.5,.08,.72,.43,.93,.56,.96];
const rho9Flip50 = [-2.13,-1.68,-2.3,-1.41,-2.2,-1.35,-2.11,-1.42,-2.44,-1.14,-2.36,-1.07,-1.97,-1.17,-1.56,-1.43,-1.56,-1.09,-1.2,-1.17,-2.06,-.87,-1.98,-.86,-1.85,-.88,-2.19,-.58,-1.73,-.58,-1.53,-.53,-1.23,-.91,-1.03,-.71,-.38,-.44,-.23,-.61,-.83,-.35,-1.36,-.49,-1.17,-.38,-1.01,-.21,-1.86,-.46,-1.33,-.17,-1.5,-.17,-1.67,-.03,-1.17,.08,-.98,-.03,-.57,-.14,-1.55,.2,-1.48,.4,-1.38,.34,-1.28,.26,-1.14,.33,-.98,.4,-.79,.4,-.67,.22,-.13,.11,-.6,.65,-.73,.72,-.99,.7,-.85,.54,-.48,.54,-.16,.61,-.58,1.38,-.77,1.15,-.32,1.75,-.3,1.54,-.19,1.43,-.13,1.82,-.41,1.04,-.32,1.11,-.23,.9,-.07,1,
2.56,4.3,2.38,3.61,2.43,3.63,2.93,3.6,2.56,3.44,2.51,3.32,1.28,3.34,1.38,3.29,1.99,3.35,2.08,3.41,2.08,3.32,2.44,3.05,2.17,3.12,2.09,3.09,1.5,3.02,1.61,3.13,1.69,3.06,1.7,2.99,1.83,2.75,1.75,2.5,2.18,2.49,2.33,2.54,2.58,2.07,1.03,2.74,1.12,2.69,1.25,2.59,1.33,2.73,.72,2.57,.59,2.5,.94,2.43,.81,2.29,.62,2.32,1.09,2.32,1.31,2.25,1.51,2.43,1.47,2.22,1.61,2.16,1.79,2.07,1.94,2.05,1.19,2.11,.31,2.04,.4,2.15,.6,1.99,.76,1.82,.94,1.86,.4,1.82,.04,1.84,1.47,1.9,1.53,1.68,1.58,1.61,1.09,1.61,.94,1.65,.56,1.58,.28,1.61,.01,1.54,.15,1.4,.5,1.36,.78,1.33,.97,1.28,1.08,1.18,1.4,1.42,.72,1.22,.4,1.15,.06,.9,.5,.65,.25,.48,.06,.47,.35,.54,.79,.7,.69,.83,.09,.72];
const rhoXFlip25 = [-2.29,-1.29,-2.07,-1.07,-2.03,-1.03,-1.98,-.98,-1.94,-.94,-1.89,-.89,-1.71,-.71,-1.66,-.66,-1.6,-.6,-1.42,-.42,-1.23,-.23,-1.18,-.18,-1.14,-.14,-1.09,-.09,-.96,.04,-.77,.23,-.72,.28,-.68,.32,-.45,.55,-.39,.61,-.3,.7,.02,1.02,.18,1.18,.47,1.47,.52,1.52,.55,1.55,.78,1.78,.81,1.81,1.2,2.2,1.29,2.29,1.44,2.44,2.2,3.2,2.48,3.48,2.54,3.54,3,4];
const rhoXFlip50 = [-2.46,-1.46,-2.42,-1.42,-2.37,-1.37,-2.29,-1.29,-2.26,-1.26,-1.98,-.98,-1.94,-.94,-1.71,-.71,-1.6,-.6,-1.33,-.33,-1.18,-.18,-1.09,-.09,-1.01,-.01,-.96,.04,-.91,.09,-.77,.23,-.54,.46,-.49,.51,-.45,.55,-.27,.73,
.02,1.02,.18,1.18,.47,1.47,.52,1.52,.55,1.55,.67,1.67,.81,1.81,.86,1.86,.92,1.92,1.2,2.2,1.24,2.24,1.29,2.29,1.33,2.33,1.44,2.44,1.66,2.66,1.8,2.8,1.92,2.92,2.2,3.2,2.24,3.24,2.28,3.28,2.32,3.32,2.48,3.48,2.54,3.54,2.58,3.58,2.83,3.83,3,4];

const sets = {
  "0": {blue:rho0Blue, orange:rho0Orange, core:rho0Core, core25:rho0Core25, core50:rho0Core50, 25:rho0Flip25, 50:rho0Flip50, outline:outline0},
  "1": {blue:rho1Blue, orange:rho1Orange, core:rho1Core, core25:rho1Core25, core50:rho1Core50, 25:rho1Flip25, 50:rho1Flip50, outline:outline1},
  "9": {blue:rho9Blue, orange:rho9Orange, core:rho9Core, core25:rho9Core25, core50:rho9Core50, 25:rho9Flip25, 50:rho9Flip50, outline:outline9},
  "x": {blue:rhoXBlue, orange:rhoXOrange, core:[], core25:"", core50:"", 25:rhoXFlip25, 50:rhoXFlip50, outline:outlineX}
};
const BLUE="#0000ff", PERU="#cd853f";
function pairs(flat){const o=[];for(let i=0;i+1<flat.length;i+=2)o.push([flat[i],flat[i+1]]);return o;}

const panels = titles.map((title,i)=>({i,title,row:Math.floor(i/3),col:i%3}));
const dots=[], outlines=[];
panels.forEach(p=>{
  const set=sets[panelRho[p.i]];
  const eps=panelEps[p.i];
  const b=pairs(set.blue).map(d=>({x:d[0],y:d[1],k:0}));
  const o=pairs(set.orange).map(d=>({x:d[0],y:d[1],k:1}));
  const pts=[];
  for(let j=0;j<Math.max(b.length,o.length);j++){ if(j<b.length)pts.push(b[j]); if(j<o.length)pts.push(o[j]); }
  const labels=pts.map(d=>d.k);
  if(eps){ // match each point read as recoloured to its position in the shared sample
    const used=new Set();
    pairs(set[eps]).forEach(f=>{
      let best=-1,bd=1e9;
      pts.forEach((d,j)=>{ if(used.has(j))return; const dd=(d.x-f[0])**2+(d.y-f[1])**2; if(dd<bd){bd=dd;best=j;} });
      used.add(best); labels[best]=1-labels[best];
    });
  }
  const coreLabels=eps===25?set.core25:eps===50?set.core50:"";
  pairs(set.core).forEach((d,j)=>{
    const ch=coreLabels[j];
    const orange=ch?ch==="o":d[0]>0;
    dots.push({x:d[0],y:d[1],color:orange?PERU:BLUE,row:p.row,col:p.col});
  });
  pts.forEach((d,j)=>dots.push({x:d.x,y:d.y,color:labels[j]?PERU:BLUE,row:p.row,col:p.col}));
  pairs(set.outline).forEach(d=>outlines.push({x:d[0],y:d[1],panel:p.i,row:p.row,col:p.col}));
});
const regionRows=regions.map(r=>({row:Math.floor(r[0]/3),col:r[0]%3,color:r[1],x1:r[2],x2:r[3],y1:r[4],y2:r[5]}));
const curved=outlines.filter(d=>panelRho[d.panel]!=="x"), straight=outlines.filter(d=>panelRho[d.panel]==="x");
const facetOpts={fx:"col",fy:"row"};

const chart=Plot.plot({
  width:4000,height:4000,marginLeft:500,marginRight:400,marginTop:480,marginBottom:440,
  style:{fontFamily:"DejaVu Sans",fontSize:"14px",background:"#fff",overflow:"visible"},
  x:{domain:[-4.31,4.67],axis:null},
  y:{domain:[-3.38,5.96],axis:null},
  fx:{domain:[0,1,2],paddingInner:0.2/1.2,paddingOuter:0,round:false,axis:null},
  fy:{domain:[0,1,2,3],paddingInner:0.2/1.2,paddingOuter:0,round:false,axis:null},
  color:{type:"identity"},
  marks:[
    Plot.rect(regionRows,{x1:"x1",x2:"x2",y1:"y1",y2:"y2",fill:"color",...facetOpts,clip:"frame",shapeRendering:"crispEdges"}),
    Plot.ruleY([0],{stroke:"black",strokeWidth:1.4,strokeDasharray:"5,2"}),
    Plot.ruleX([0],{stroke:"black",strokeWidth:1.4,strokeDasharray:"5,2"}),
    Plot.dot(dots,{x:"x",y:"y",fill:"color",r:5,...facetOpts}),
    Plot.line(curved,{x:"x",y:"y",z:"panel",stroke:"black",strokeWidth:1.5,curve:"catmull-rom-closed",...facetOpts}),
    Plot.line(straight,{x:"x",y:"y",z:"panel",stroke:"black",strokeWidth:1.5,...facetOpts}),
    Plot.dot(corners,{x:d=>d[0],y:d=>d[1],symbol:"times",stroke:"red",r:4,strokeWidth:1.6}),
    Plot.axisX({ticks:xTicks,anchor:"bottom",facetAnchor:null,tickSize:6,fill:"none",label:null,strokeWidth:1.1}),
    Plot.axisY({ticks:yTicks,anchor:"left",facetAnchor:null,tickSize:6,fill:"none",label:null,strokeWidth:1.1}),
    Plot.axisX({ticks:xTicks,anchor:"bottom",facetAnchor:"bottom",tickSize:0,tickPadding:9,label:null,fontSize:14}),
    Plot.axisY({ticks:yTicks,anchor:"left",facetAnchor:"left",tickSize:0,tickPadding:9.5,label:null,fontSize:14}),
    Plot.frame({stroke:"black",strokeWidth:1.1}),
    Plot.text(panels,{text:"title",frameAnchor:"top",lineAnchor:"bottom",dy:-10,fontSize:42,...facetOpts}),
    Plot.text(panels.filter(p=>p.row<3),{text:()=>"X1",frameAnchor:"bottom",lineAnchor:"middle",dy:30,fontSize:43,...facetOpts}),
    Plot.text(panels.filter(p=>p.row===3),{text:()=>"X1",frameAnchor:"bottom",lineAnchor:"middle",dy:48,fontSize:43,...facetOpts}),
    Plot.text(panels.filter(p=>p.col===0),{text:()=>"X2",frameAnchor:"left",rotate:-90,lineAnchor:"middle",dx:-60,fontSize:43,...facetOpts}),
    Plot.text(panels.filter(p=>p.col===1),{text:()=>"X2",frameAnchor:"left",rotate:-90,lineAnchor:"middle",dx:-33,fontSize:43,...facetOpts}),
    Plot.text(panels.filter(p=>p.col===2),{text:()=>"X2",frameAnchor:"left",rotate:-90,lineAnchor:"middle",dx:-35,fontSize:43,...facetOpts})
  ]
});
chart.querySelectorAll("text").forEach(t=>{
  if(t.textContent.includes("ε")){
    t.innerHTML=t.textContent.replace("ε",'<tspan font-style="italic">ε</tspan>').replace("ρ",'<tspan font-style="italic">ρ</tspan>');
  }
});
document.getElementById("chart").appendChild(chart);
</script></body></html>
